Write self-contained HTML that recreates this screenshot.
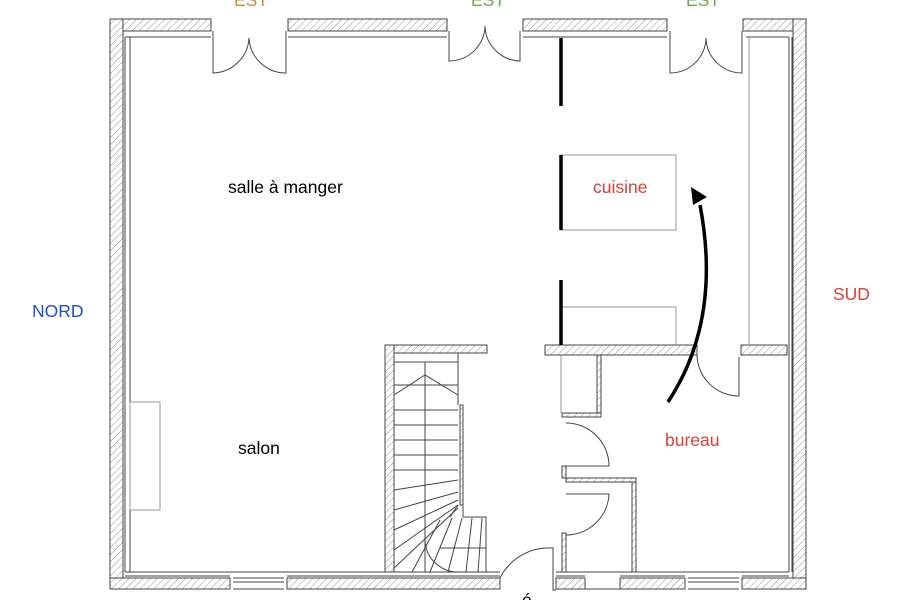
<!DOCTYPE html>
<html><head><meta charset="utf-8"><style>
html,body{margin:0;padding:0;background:#fff;width:900px;height:600px;overflow:hidden}
svg{display:block}
text{font-family:"Liberation Sans",sans-serif}
</style></head><body>
<svg width="900" height="600" viewBox="0 0 900 600" xmlns="http://www.w3.org/2000/svg">
<defs>
<pattern id="h" width="5" height="5" patternUnits="userSpaceOnUse" patternTransform="rotate(45)">
<rect width="5" height="5" fill="#fff"/><line x1="0" y1="0" x2="0" y2="5" stroke="#777" stroke-width="0.8"/>
</pattern>
</defs>
<g stroke="#444" stroke-width="1" fill="url(#h)">
<rect x="110" y="19" width="101" height="12"/>
<rect x="288" y="19" width="159" height="12"/>
<rect x="523" y="19" width="144" height="12"/>
<rect x="743" y="19" width="63" height="12"/>
<rect x="110" y="19" width="13" height="570"/>
<rect x="793" y="19" width="13" height="570"/>
<rect x="110" y="578" width="120" height="11"/>
<rect x="287" y="578" width="213" height="11"/>
<rect x="556" y="578" width="29" height="11"/>
<rect x="620" y="578" width="65" height="11"/>
<rect x="742" y="578" width="64" height="11"/>
<rect x="545" y="345" width="152" height="10"/>
<rect x="741" y="345" width="46" height="10"/>
<rect x="385" y="345" width="102" height="8"/>
<rect x="385" y="345" width="9" height="227"/>
<rect x="597" y="355" width="4" height="58"/>
<rect x="562" y="413" width="39" height="4"/>
<rect x="566" y="478" width="70" height="4"/>
<rect x="632" y="482" width="4" height="90"/>
<rect x="562" y="466" width="4" height="12"/>
<rect x="562" y="533" width="4" height="39"/>
<rect x="460" y="405" width="3" height="100"/>
</g>
<g stroke="#444" stroke-width="1" fill="none">
<path d="M123 31 H211 M288 31 H447 M523 31 H667 M743 31 H793"/>
<path d="M125 37 H211 M288 37 H447 M523 37 H667 M746 37 H789"/>
<path d="M125 37 V572 M130 37 V572 M789 37 V572 M792 37 V572"/>
<path d="M125 572 H230 M287 572 H500 M556 572 H585 M620 572 H685 M742 572 H789"/>
<path d="M125 576 H230 M287 576 H500 M556 576 H585 M620 576 H685 M742 576 H789"/>
<path d="M213 31 V73 A37 37 0 0 0 249 38 A37 37 0 0 0 286 73 V31"/>
<path d="M449 31 V61 A36 36 0 0 0 485 26 A36 36 0 0 0 520 61 V31"/>
<path d="M670 31 V73 A36 36 0 0 0 706 38 A36 36 0 0 0 742 73 V31"/>
<path d="M230 572 H287 M233 578 H284 M233 582 H284 M233 589 H284"/>
<path d="M585 572 H620 M585 589 H620"/>
<path d="M685 572 H742 M688 578 H739 M688 582 H739 M688 589 H739"/>
<path d="M749 37 V345" stroke="#999"/>
<rect x="560" y="155" width="116" height="75" stroke="#999"/>
<path d="M560 307 H676 V345" stroke="#999"/>
<rect x="130" y="402" width="30" height="108" stroke="#999"/>
<path d="M561 355 V413" stroke="#999"/>
<path d="M697 355 A42 42 0 0 0 739 396 V357"/>
<path d="M566 423 A43 43 0 0 1 609 466 H566"/>
<path d="M566 494 H609 A43 43 0 0 1 566 535"/>
<path d="M500 578 A55 55 0 0 1 553 548 V590 H556"/>
<path d="M394 353 H458 V405 M394 362 H458"/>
<path d="M425 362 V572"/>
<path d="M394 395 L425 375 L458 395" />
<path d="M394 385 H458 M394 410 H458 M394 425 H458 M394 440 H458 M394 455 H458 M394 470 H458"/>
<path d="M394 490 L458 480 M394 510 L458 492 M394 530 L458 500 M394 550 L458 505 M394 568 L458 508"/>
<path d="M425 540 A33 33 0 0 0 460 572"/>
<path d="M458 505 L450 517 M463 505 V517 H486 V572 M412 572 L440 520 M430 572 L452 518 M448 572 L462 518 M466 572 L472 518 M478 572 L482 518"/>
<path d="M440 548 H486" />
</g>
<g stroke="#000" stroke-width="3.5" fill="none">
<path d="M561 38 V106 M561 155 V230 M561 280 V345"/>
<path d="M668 402 Q722 320 700 205"/>
</g>
<path d="M691 187 L707 197 L693 205 Z" fill="#000"/>
<g font-size="17.5">
<text x="228" y="193" fill="#000">salle à manger</text>
<text x="238" y="454" fill="#000">salon</text>
<text x="593" y="193" fill="#d9403a">cuisine</text>
<text x="665" y="446" fill="#d9403a">bureau</text>
<text x="32" y="317" fill="#1a4fc4">NORD</text>
<text x="833" y="300" fill="#d9403a">SUD</text>
<text x="234" y="6" fill="#c98a3a">EST</text>
<text x="471" y="6" fill="#6aa84f">EST</text>
<text x="686" y="6" fill="#6aa84f">EST</text>
<text x="522" y="606" fill="#000">é</text>
</g>
</svg>
</body></html>
